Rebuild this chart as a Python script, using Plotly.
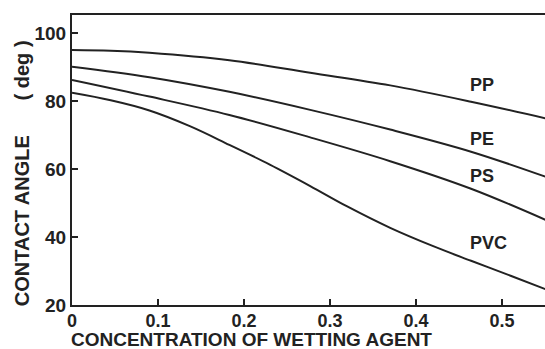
import plotly.graph_objects as go

concentration_pp = [0.0, 0.045, 0.09, 0.183, 0.277, 0.370, 0.464, 0.551]
angle_pp = [95.0, 94.8, 94.2, 92.0, 88.3, 84.6, 79.8, 74.9]

concentration_pe = [0.0, 0.09, 0.183, 0.277, 0.370, 0.464, 0.551]
angle_pe = [90.1, 87.0, 82.7, 77.4, 71.6, 65.1, 57.7]

concentration_ps = [0.0, 0.09, 0.183, 0.277, 0.370, 0.464, 0.551]
angle_ps = [86.2, 81.3, 75.9, 69.3, 62.3, 54.2, 45.0]

concentration_pvc = [0.0, 0.045, 0.09, 0.137, 0.183, 0.23, 0.277, 0.32, 0.370, 0.42, 0.464, 0.51, 0.551]
angle_pvc = [82.4, 80.2, 77.2, 72.6, 67.1, 61.3, 55.0, 49.0, 42.7, 37.3, 33.0, 28.6, 24.6]

series_names = ["PP", "PE", "PS", "PVC"]
label_x = [0.46, 0.46, 0.46, 0.46]
label_y = [84.7, 68.8, 57.9, 38.2]

x_tick_vals = [0, 0.1, 0.2, 0.3, 0.4, 0.5]
x_tick_text = ["0", "0.1", "0.2", "0.3", "0.4", "0.5"]
y_tick_vals = [20, 40, 60, 80, 100]
y_tick_text = ["20", "40", "60", "80", "100"]

ink = "#222222"
fig = go.Figure()
for xs, ys, name in [(concentration_pp, angle_pp, "PP"), (concentration_pe, angle_pe, "PE"),
                     (concentration_ps, angle_ps, "PS"), (concentration_pvc, angle_pvc, "PVC")]:
    fig.add_trace(go.Scatter(x=xs, y=ys, mode="lines", name=name,
                             line=dict(color=ink, width=2, shape="spline", smoothing=1.0),
                             showlegend=False, hoverinfo="skip"))

for name, lx, ly in zip(series_names, label_x, label_y):
    fig.add_annotation(x=lx, y=ly, text=name, showarrow=False, xanchor="left", yanchor="middle",
                       font=dict(family="Liberation Sans", size=18, color=ink, weight="bold"))

fig.add_annotation(xref="paper", yref="paper", x=-0.005, y=-0.158, xanchor="left", yanchor="bottom",
                   text="CONCENTRATION OF WETTING AGENT", showarrow=False, borderpad=0,
                   font=dict(family="Liberation Sans", size=19, color=ink, weight="bold"))
fig.add_annotation(xref="paper", yref="paper", x=-0.105, y=0.29, xanchor="center", yanchor="middle",
                   text="CONTACT ANGLE", textangle=-90, showarrow=False,
                   font=dict(family="Liberation Sans", size=20, color=ink, weight="bold"))
fig.add_annotation(xref="paper", yref="paper", x=-0.105, y=0.81, xanchor="center", yanchor="middle",
                   text="( deg )", textangle=-90, showarrow=False,
                   font=dict(family="Liberation Sans", size=20, color=ink, weight="bold"))

fig.update_layout(
    width=545, height=349,
    margin=dict(l=72, r=0, t=15, b=44),
    plot_bgcolor="white", paper_bgcolor="white",
    xaxis=dict(range=[0, 0.55], tickvals=x_tick_vals, ticktext=x_tick_text,
               ticks="inside", ticklen=6, tickwidth=1.5, tickcolor=ink,
               showline=True, linecolor=ink, linewidth=2, mirror=True,
               showgrid=False, zeroline=False, ticklabelstandoff=-2,
               tickfont=dict(family="Liberation Sans", size=18, color=ink, weight="bold")),
    yaxis=dict(range=[20, 105.3], tickvals=y_tick_vals, ticktext=y_tick_text,
               ticks="inside", ticklen=6, tickwidth=1.5, tickcolor=ink,
               showline=True, linecolor=ink, linewidth=2,
               showgrid=False, zeroline=False,
               tickfont=dict(family="Liberation Sans", size=19, color=ink, weight="bold")),
)

fig.write_html("out.html", config={"displayModeBar": False},
               post_script="document.body.style.margin='0';")
